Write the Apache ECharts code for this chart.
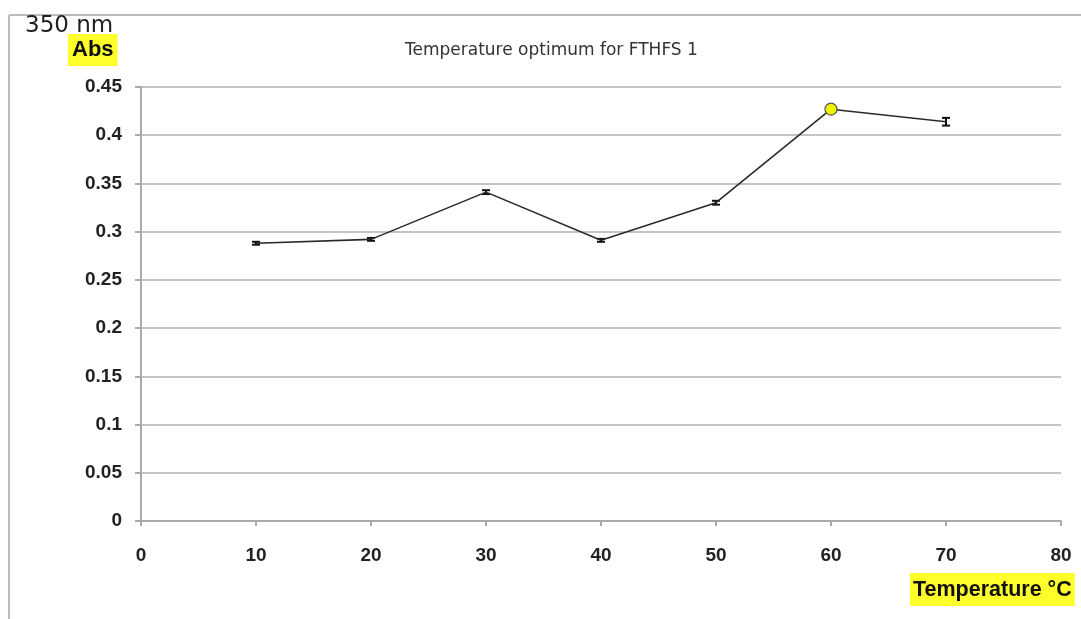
<!DOCTYPE html>
<html>
<head>
<meta charset="utf-8">
<script src="https://cdn.jsdelivr.net/npm/echarts@6/dist/echarts.min.js"></script>
<style>
  html, body { margin: 0; padding: 0; background: #fff; }
  #chart { width: 1081px; height: 619px; }
</style>
</head>
<body>
<div id="chart"></div>
<script>
// Assay temperature (°C) and absorbance at 350 nm
const temperatures = [10, 20, 30, 40, 50, 60, 70];
const absorbance   = [0.288, 0.292, 0.341, 0.291, 0.330, 0.427, 0.414];
const absError     = [0.0015, 0.0015, 0.002, 0.0015, 0.002, 0.002, 0.004];
const highlightTemp = 60;

const xTicks = [0, 10, 20, 30, 40, 50, 60, 70, 80];
const yTicks = [0, 0.05, 0.1, 0.15, 0.2, 0.25, 0.3, 0.35, 0.4, 0.45];

const lineData = temperatures.map((t, i) => ({
  value: [t, absorbance[i]],
  symbol: t === highlightTemp ? 'circle' : 'none',
  symbolSize: 12,
  itemStyle: { color: '#f2f200', borderColor: '#555', borderWidth: 1.2 }
}));
const errData = temperatures.map((t, i) => [t, absorbance[i] - absError[i], absorbance[i] + absError[i]]);

const labelFont = { fontFamily: 'Liberation Sans', fontWeight: 'bold', fontSize: 19, color: '#222' };

const chart = echarts.init(document.getElementById('chart'), null, { renderer: 'canvas' });
chart.setOption({
  animation: false,
  backgroundColor: '#fff',
  title: {
    text: 'Temperature optimum for FTHFS 1',
    left: 400,
    top: 37,
    textStyle: { fontFamily: 'DejaVu Sans', fontWeight: 'normal', fontSize: 17, color: '#333' }
  },
  grid: { left: 141, right: 20, top: 87, bottom: 98, containLabel: false },
  xAxis: {
    type: 'value',
    min: xTicks[0],
    max: xTicks[xTicks.length - 1],
    interval: xTicks[1] - xTicks[0],
    axisLine: { show: true, onZero: false, lineStyle: { color: '#aaa', width: 2 } },
    axisTick: { show: true, length: 5, lineStyle: { color: '#aaa', width: 2 } },
    axisLabel: Object.assign({ margin: 25 }, labelFont),
    splitLine: { show: false }
  },
  yAxis: {
    type: 'value',
    min: yTicks[0],
    max: yTicks[yTicks.length - 1],
    interval: 0.05,
    axisLine: { show: true, lineStyle: { color: '#aaa', width: 2 } },
    axisTick: { show: true, length: 6, lineStyle: { color: '#aaa', width: 2 } },
    axisLabel: Object.assign({ margin: 19, formatter: v => String(+v.toFixed(2)) }, labelFont),
    splitLine: { show: true, lineStyle: { color: '#c4c4c4', width: 2 } }
  },
  series: [
    {
      type: 'line',
      data: lineData,
      lineStyle: { color: '#2a2a2a', width: 1.6 },
      z: 5
    },
    {
      type: 'custom',
      data: errData,
      z: 4,
      renderItem: (params, api) => {
        const lo = api.coord([api.value(0), api.value(1)]);
        const hi = api.coord([api.value(0), api.value(2)]);
        const w = 4;
        const st = { stroke: '#111', lineWidth: 2 };
        return {
          type: 'group',
          children: [
            { type: 'line', shape: { x1: lo[0], y1: lo[1], x2: hi[0], y2: hi[1] }, style: st },
            { type: 'line', shape: { x1: lo[0] - w, y1: lo[1], x2: lo[0] + w, y2: lo[1] }, style: st },
            { type: 'line', shape: { x1: hi[0] - w, y1: hi[1], x2: hi[0] + w, y2: hi[1] }, style: st }
          ]
        };
      }
    }
  ],
  graphic: [
    // outer frame (top and left edges)
    { type: 'line', shape: { x1: 9, y1: 15, x2: 1081, y2: 15 }, style: { stroke: '#bbb', lineWidth: 2 } },
    { type: 'line', shape: { x1: 9, y1: 15, x2: 9, y2: 619 }, style: { stroke: '#bbb', lineWidth: 2 } },
    {
      type: 'text', left: 25, top: 15,
      style: { text: '350 nm', font: '23px "DejaVu Sans"', fill: '#222' }
    },
    {
      type: 'text', left: 68, top: 34,
      style: {
        text: 'Abs', font: 'bold 22px "Liberation Sans"', fill: '#111',
        backgroundColor: '#ffff2a', padding: [5, 4, 5, 4]
      }
    },
    {
      type: 'text', left: 910, top: 573,
      style: {
        text: 'Temperature °C', font: 'bold 21.5px "Liberation Sans"', fill: '#111',
        backgroundColor: '#ffff2a', padding: [6, 3, 5, 3]
      }
    }
  ]
});
</script>
</body>
</html>
